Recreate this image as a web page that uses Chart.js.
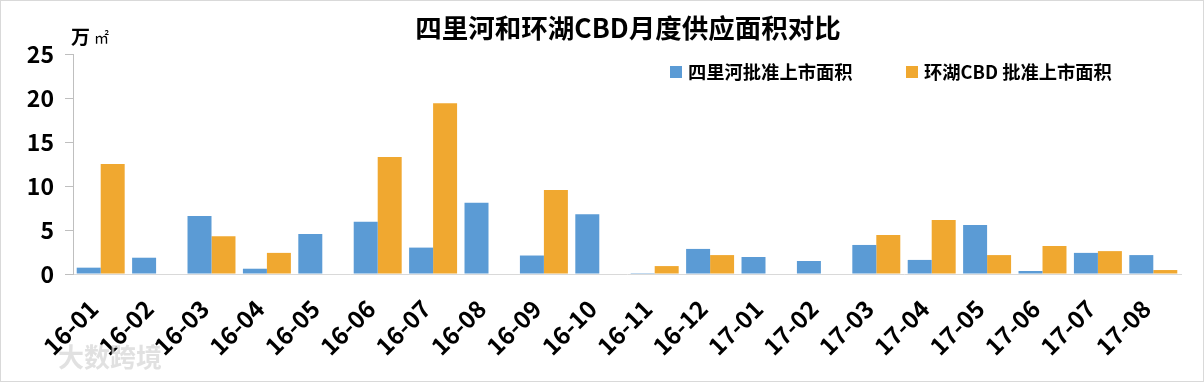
<!DOCTYPE html>
<html>
<head>
<meta charset="utf-8">
<script src="https://cdn.jsdelivr.net/npm/chart.js@4/dist/chart.umd.min.js"></script>
<style>
  html, body { margin: 0; padding: 0; background: #fff; }
  #wrap { width: 1204px; height: 382px; position: relative; }
</style>
</head>
<body>
<div id="wrap"><canvas id="c" width="1204" height="382"></canvas></div>
<script>
const categories = ["16-01","16-02","16-03","16-04","16-05","16-06","16-07","16-08","16-09","16-10","16-11","16-12","17-01","17-02","17-03","17-04","17-05","17-06","17-07","17-08"];
const silihe = [0.72, 1.85, 6.6, 0.6, 4.55, 5.95, 3.0, 8.1, 2.1, 6.8, 0.1, 2.85, 1.93, 1.48, 3.3, 1.6, 5.57, 0.34, 2.4, 2.15];
const huanhu = [12.5, 0, 4.3, 2.4, 0, 13.3, 19.4, 0, 9.55, 0, 0.9, 2.15, 0, 0, 4.43, 6.14, 2.15, 3.18, 2.6, 0.45];
const seriesNames = ["四里河批准上市面积", "环湖CBD 批准上市面积"];
const yTicks = [0, 5, 10, 15, 20, 25];
const titleText = "四里河和环湖CBD月度供应面积对比";
const unitMain = "万";
const unitSub = "㎡";
const watermark = "大数跨境";

const BLUE = "#5B9BD5";
const ORANGE = "#F0A830";
const FONT = "'Noto Sans CJK SC', 'Noto Sans', sans-serif";

const extras = {
  id: "extras",
  afterDraw(chart) {
    const ctx = chart.ctx;
    ctx.save();
    // border
    ctx.strokeStyle = "#d9d9d9";
    ctx.lineWidth = 1;
    ctx.strokeRect(0.5, 0.5, chart.width - 1, chart.height - 1);
    // title
    ctx.fillStyle = "#000";
    ctx.textBaseline = "middle";
    ctx.textAlign = "center";
    ctx.font = "bold 26.5px " + FONT;
    ctx.fillText(titleText, 628, 28);
    // unit label
    ctx.textAlign = "left";
    ctx.font = "bold 19px " + FONT;
    ctx.fillText(unitMain, 71, 37);
    ctx.font = "15px " + FONT;
    ctx.fillText(unitSub, 94, 37);
    // legend
    const items = [
      { x: 670, color: BLUE, text: seriesNames[0] },
      { x: 906, color: ORANGE, text: seriesNames[1] }
    ];
    ctx.font = "bold 18.3px " + FONT;
    items.forEach(it => {
      ctx.fillStyle = it.color;
      ctx.fillRect(it.x, 66, 12, 12);
      ctx.fillStyle = "#000";
      ctx.fillText(it.text, it.x + 18, 72);
    });
    // watermark
    ctx.font = "bold 26px " + FONT;
    ctx.fillStyle = "rgba(215,215,215,0.75)";
    ctx.fillText(watermark, 58, 357);
    ctx.restore();
  }
};

new Chart(document.getElementById("c"), {
  type: "bar",
  data: {
    labels: categories,
    datasets: [
      { label: seriesNames[0], data: silihe, backgroundColor: BLUE, categoryPercentage: 0.866, barPercentage: 1.0 },
      { label: seriesNames[1], data: huanhu, backgroundColor: ORANGE, categoryPercentage: 0.866, barPercentage: 1.0 }
    ]
  },
  options: {
    responsive: false,
    animation: false,
    layout: { padding: { left: 0, right: 23, top: 54, bottom: 0 } },
    plugins: {
      legend: { display: false },
      tooltip: { enabled: false },
      title: { display: false }
    },
    scales: {
      x: {
        grid: { display: false, drawTicks: false },
        border: { display: true, color: "#d9d9d9", width: 1 },
        ticks: {
          color: "#000",
          font: { family: FONT, size: 24, weight: "bold" },
          maxRotation: 45, minRotation: 45, autoSkip: false, padding: 20, labelOffset: -7
        },
        afterFit(scale) { scale.height = 108; }
      },
      y: {
        min: 0, max: 25,
        afterBuildTicks(scale) { scale.ticks = yTicks.map(v => ({ value: v })); },
        grid: { drawOnChartArea: false, drawTicks: true, tickLength: 8, color: "#bfbfbf" },
        border: { display: true, color: "#bfbfbf", width: 1 },
        ticks: {
          color: "#000",
          font: { family: FONT, size: 23, weight: "bold" },
          padding: 11
        },
        afterFit(scale) { scale.width = 73; }
      }
    }
  },
  plugins: [extras]
});
</script>
</body>
</html>
